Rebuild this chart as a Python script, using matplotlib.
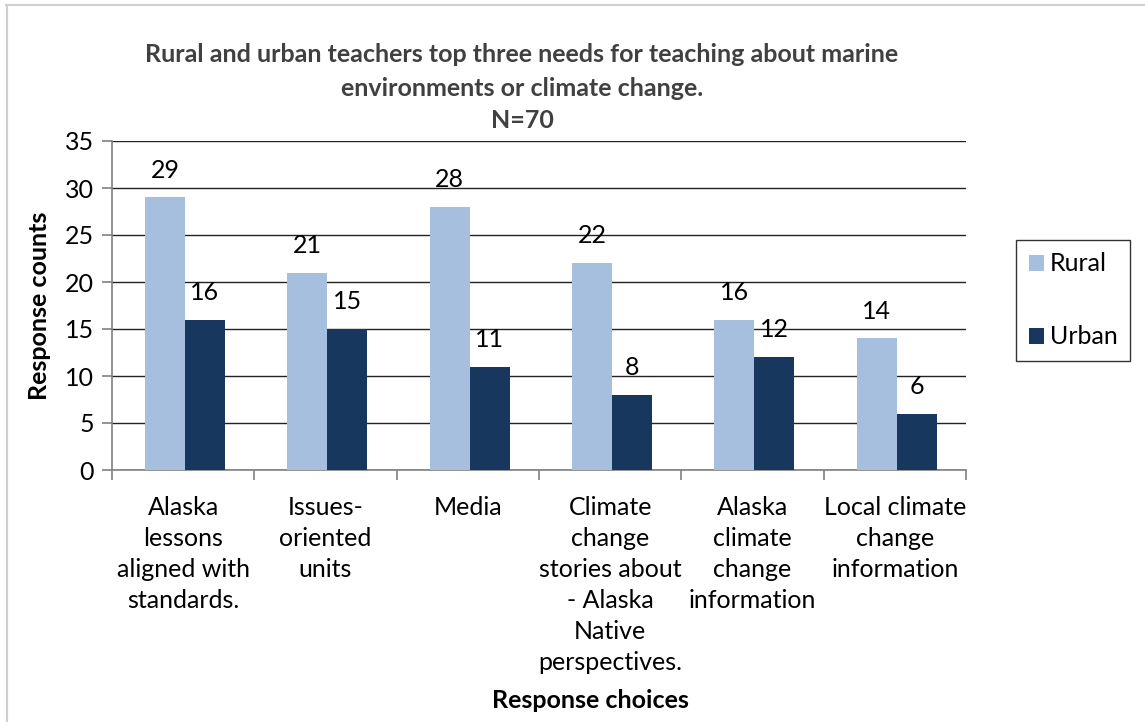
import matplotlib.pyplot as plt
import numpy as np
from matplotlib.lines import Line2D

# data
categories = ["Alaska\nlessons\naligned with\nstandards.",
              "Issues-\noriented\nunits",
              "Media",
              "Climate\nchange\nstories about\n- Alaska\nNative\nperspectives.",
              "Alaska\nclimate\nchange\ninformation",
              "Local climate\nchange\ninformation"]
rural = [29, 21, 28, 22, 16, 14]
urban = [16, 15, 11, 8, 12, 6]

plt.rcParams['font.family'] = ['Lato', 'DejaVu Sans']

fig = plt.figure(figsize=(11.45, 7.22), dpi=100)
ax = fig.add_axes([112/1145, 1-470/722, (966-112)/1145, (470-141)/722])

x = np.arange(len(categories))
w = 0.28
b1 = ax.bar(x - 0.128, rural, w, color="#A7BFDE", label="Rural", zorder=3)
b2 = ax.bar(x + 0.153, urban, w, color="#17375E", label="Urban", zorder=3)

for bars, vals in ((b1, rural), (b2, urban)):
    for r, v in zip(bars, vals):
        ax.text(r.get_x() + r.get_width()/2, v + 2.9, str(v), ha="center",
                va="center", fontsize=18, color="black")

ax.set_xlim(-0.5, len(categories) - 0.5)
ax.set_ylim(0, 35)
ax.set_yticks(range(0, 36, 5))
ax.yaxis.grid(True, color="#222222", linewidth=1, zorder=0)
ax.set_axisbelow(True)

# category labels between boundary ticks
ax.set_xticks(np.arange(-0.5, len(categories), 1))
ax.set_xticklabels([])
ax.set_xticks(x, minor=True)
ax.set_xticklabels(categories, minor=True, fontsize=18, linespacing=1.42, va="top")
ax.tick_params(axis="x", which="minor", length=0, pad=19)
ax.tick_params(axis="x", which="major", length=7, color="#808080", width=1.2)
ax.tick_params(axis="y", length=7, color="#808080", width=1.2, labelsize=18, pad=6)

for s in ("top", "right"):
    ax.spines[s].set_visible(False)
for s in ("left", "bottom"):
    ax.spines[s].set_color("#808080")
    ax.spines[s].set_linewidth(1.2)

ax.set_ylabel("Response counts", fontsize=18, fontweight="bold", labelpad=10)
fig.text(590/1145, 1-700/722, "Response choices", fontsize=18, fontweight="bold",
         ha="center", va="center")

fig.text(522/1145, 1-55/722, "Rural and urban teachers top three needs for teaching about marine",
         fontsize=18, fontweight="bold", color="#404040", ha="center", va="center")
fig.text(522/1145, 1-88/722, "environments or climate change.",
         fontsize=18, fontweight="bold", color="#404040", ha="center", va="center")
fig.text(522/1145, 1-120/722, "N=70",
         fontsize=18, fontweight="bold", color="#404040", ha="center", va="center")

leg = fig.legend(handles=[b1, b2], loc="upper left",
                 bbox_to_anchor=(1016/1145, 1-240/722), frameon=True, fancybox=False,
                 fontsize=18, handlelength=0.6, handleheight=0.6, labelspacing=2.0,
                 borderpad=0.5, handletextpad=0.25, borderaxespad=0, edgecolor="black")
leg.get_frame().set_linewidth(1.0)

# outer chart border (top and left visible)
fig.add_artist(Line2D([6/1145, 1], [1-5/722, 1-5/722], color="#d0d0d0", linewidth=1.5,
                      transform=fig.transFigure))
fig.add_artist(Line2D([6.5/1145, 6.5/1145], [0, 1-5/722], color="#d0d0d0", linewidth=1.5,
                      transform=fig.transFigure))

plt.savefig("out.png", dpi=100)
